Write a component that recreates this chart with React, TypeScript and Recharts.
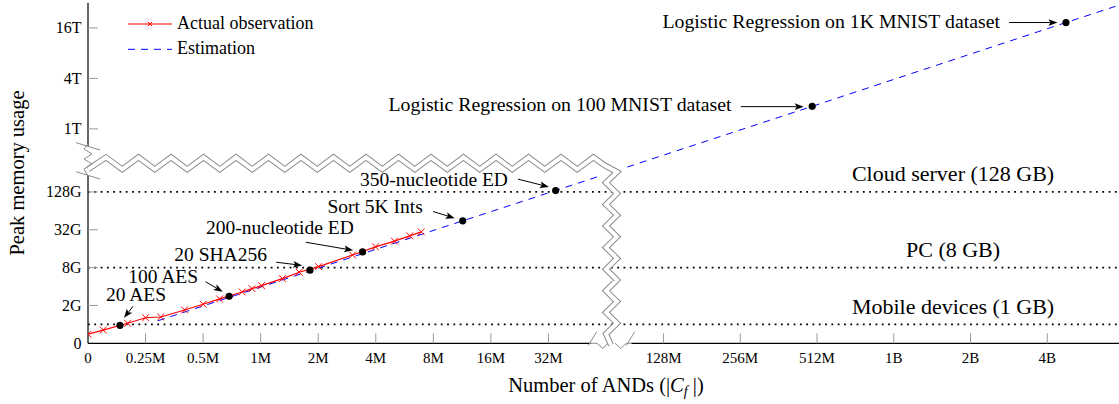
import React from "react";
import { ComposedChart, Line, Scatter, XAxis, YAxis, ReferenceLine, Legend } from "recharts";

// ANDs in millions, memory in GB
const obsAnds = [0, 0.066, 0.172, 0.25, 0.3, 0.4, 0.5, 0.61, 0.8, 0.9, 1.01, 1.3, 1.59, 2.01, 3.02, 3.99, 5.01, 6.02, 6.92];
const obsMem = [0.48, 0.7, 1.06, 1.35, 1.39, 1.76, 2.09, 2.54, 3.28, 3.7, 4.13, 5.34, 6.76, 8.3, 12.7, 17.1, 21.1, 25.6, 29.6];

const estAnds = [0.29, 11.4, 34.9, 490, 4850, 8190];
const estMem = [1.19, 44.4, 134, 1900, 19000, 32000];

const pointNames = [
  "20 AES",
  "100 AES",
  "20 SHA256",
  "200-nucleotide ED",
  "Sort 5K Ints",
  "350-nucleotide ED",
  "Logistic Regression on 100 MNIST dataset",
  "Logistic Regression on 1K MNIST dataset",
];
const pointAnds = [0.139, 0.684, 1.81, 3.41, 11.4, 34.9, 490, 4850];
const pointMem = [0.95, 2.8, 7.27, 14.2, 44.4, 134, 1900, 19000];

const limitNames = ["Mobile devices (1 GB)", "PC (8 GB)", "Cloud server (128 GB)"];
const limitMem = [1, 8, 128];

const xTickNames = ["0", "0.25M", "0.5M", "1M", "2M", "4M", "8M", "16M", "32M", "128M", "256M", "512M", "1B", "2B", "4B"];
const xTickAnds = [0, 0.25, 0.5, 1, 2, 4, 8, 16, 32, 128, 256, 512, 1024, 2048, 4096];
const xTopTickAnds = [0.25, 1, 2, 4, 8, 16, 32, 128, 256, 512, 1024, 2048, 4096];

const yTickNames = ["0", "2G", "8G", "32G", "128G", "1T", "4T", "16T"];
const yTickMem = [0, 2, 8, 32, 128, 1024, 4096, 16384];

const legendNames = ["Actual observation", "Estimation"];

// piecewise axes: linear first step, log2 steps, then a broken (stretched) log part
const toX = (m: number) =>
  m <= 0.25 ? m / 0.25 : m <= 128 ? 1 + Math.log2(m / 0.25) : 10 + (4 / 3) * Math.log2(m / 128);
const toY = (g: number) =>
  g <= 2
    ? g
    : g <= 128
    ? 2 + Math.log2(g / 2)
    : g <= 1024
    ? 8 + (10 / 9) * Math.log2(g / 128)
    : 34 / 3 + (4 / 3) * Math.log2(g / 1024);

const obsRows = obsAnds.map((a, i) => ({ x: toX(a), y: toY(obsMem[i]) }));
const estRows = estAnds.map((a, i) => ({ x: toX(a), y: toY(estMem[i]) }));
const pointRows = pointAnds.map((a, i) => ({ x: toX(a), y: toY(pointMem[i]), i }));

const FONT = '"Liberation Serif", "Times New Roman", serif';
const TICK = "#999";
const BREAK = "#8a8a8a";

// callout offsets relative to each dot: arrow tail, arrow tip, text position
const callouts = [
  { tail: [13, -19], tip: [4, -7.5], text: [16, -24], anchor: "middle" },
  { tail: [-23.6, -14.6], tip: [-6.5, -4.5], text: [-31, -13.6], anchor: "end" },
  { tail: [-33.6, -8], tip: [-7.8, -4.8], text: [-43, -9.3], anchor: "end" },
  { tail: [-56.7, -9.7], tip: [-9.4, -1.6], text: [-82.7, -17.7], anchor: "middle" },
  { tail: [-29.7, -9.3], tip: [-8, -2.7], text: [-40, -8.3], anchor: "end" },
  { tail: [-37.7, -11.4], tip: [-6.8, -3.6], text: [-47.7, -5], anchor: "end" },
  { tail: [-71.3, 0.3], tip: [-8.5, 0.3], text: [-80.6, 5], anchor: "end" },
  { tail: [-57, 0], tip: [-8.5, 0], text: [-66, 5], anchor: "end" },
];

const XMark = ({ cx, cy, r = 3.4 }: { cx: number; cy: number; r?: number }) => (
  <path
    d={`M${cx - r},${cy - r}L${cx + r},${cy + r}M${cx - r},${cy + r}L${cx + r},${cy - r}`}
    stroke="#ff0000"
    strokeWidth={1}
    fill="none"
  />
);

const Callout = (p: any) => {
  const { cx, cy, payload } = p;
  const c = callouts[payload.i];
  const sx = cx + c.tail[0], sy = cy + c.tail[1];
  const tx = cx + c.tip[0], ty = cy + c.tip[1];
  const len = Math.hypot(tx - sx, ty - sy);
  const dx = (tx - sx) / len, dy = (ty - sy) / len;
  const L = 9, w = 3.4;
  const bx = tx - dx * L, by = ty - dy * L;
  const long = pointNames[payload.i].length > 30;
  return (
    <g>
      <line x1={sx} y1={sy} x2={bx + dx * 2} y2={by + dy * 2} stroke="#000" strokeWidth={1} />
      <path
        d={`M${tx},${ty}L${bx - dy * w},${by + dx * w}L${bx + dx * 2},${by + dy * 2}L${bx + dy * w},${by - dx * w}Z`}
        fill="#000"
      />
      <circle cx={cx} cy={cy} r={3.6} fill="#000" />
      <text
        x={cx + c.text[0]}
        y={cy + c.text[1]}
        textAnchor={c.anchor}
        fontSize={long ? 19.8 : 19.5}
        fontFamily={FONT}
        fill="#000"
      >
        {pointNames[payload.i]}
      </text>
    </g>
  );
};

const BottomTick = (p: any) => (
  <g>
    {p.index > 0 && <line x1={p.x} x2={p.x} y1={p.y} y2={p.y - 10} stroke={TICK} />}
    <text x={p.x} y={p.y + 19.5} textAnchor="middle" fontSize={15} fontFamily={FONT} fill="#000">
      {xTickNames[p.index]}
    </text>
  </g>
);
const TopTick = (p: any) => <line x1={p.x} x2={p.x} y1={p.y} y2={p.y + 10} stroke={TICK} />;
const LeftTick = (p: any) => (
  <g>
    {p.index > 0 && <line x1={p.x} x2={p.x + 10} y1={p.y} y2={p.y} stroke={TICK} />}
    <text x={p.x - 6.5} y={p.y + 5.3} textAnchor="end" fontSize={16} fontFamily={FONT} fill="#000">
      {yTickNames[p.index]}
    </text>
  </g>
);
const RightTick = (p: any) => (p.index > 0 ? <line x1={p.x} x2={p.x - 10} y1={p.y} y2={p.y} stroke={TICK} /> : <g />);

const LegendBox = () => (
  <svg width={220} height={60} style={{ display: "block", fontFamily: FONT }}>
    <line x1={10} x2={54} y1={20} y2={20} stroke="#ff0000" strokeWidth={1.2} />
    <XMark cx={32} cy={20} r={2.2} />
    <text x={59} y={25.3} fontSize={18} fill="#000">{legendNames[0]}</text>
    <line x1={10} x2={54} y1={45.3} y2={45.3} stroke="#0000ff" strokeWidth={1} strokeDasharray="7 6" />
    <text x={59} y={50} fontSize={18} fill="#000">{legendNames[1]}</text>
  </svg>
);

const limitLabel = (name: string) => (props: any) => {
  const vb = props.viewBox;
  return (
    <text x={vb.x + vb.width * 0.835} y={vb.y - 10.5} textAnchor="middle" fontSize={22} fontFamily={FONT} fill="#000">
      {name}
    </text>
  );
};

const XLabel = (props: any) => {
  const vb = props.viewBox;
  return (
    <text x={vb.x + vb.width / 2} y={vb.y + 48.4} textAnchor="middle" fontSize={20.5} fontFamily={FONT} fill="#000">
      <tspan>Number of ANDs (|</tspan>
      <tspan fontStyle="italic">C</tspan>
      <tspan fontStyle="italic" fontSize={14} dy={4}>f</tspan>
      <tspan dy={-4}> |)</tspan>
    </text>
  );
};

const YLabel = (props: any) => {
  const vb = props.viewBox;
  const cy = vb.y + vb.height / 2;
  return (
    <text x={23.5} y={cy} transform={`rotate(-90 23.5 ${cy})`} textAnchor="middle" fontSize={20.5} fontFamily={FONT} fill="#000">
      Peak memory usage
    </text>
  );
};

// axis break decoration (zig-zag band)
const bandPts: number[][] = [[88, 169.3]];
for (let k = 0; k < 16; k++) {
  const xp = 106 + 32.5 * k;
  bandPts.push([xp, 157.3]);
  if (k < 15) bandPts.push([xp + 16.25, 169.3]);
}
bandPts.push([604, 165]);
for (let k = 0; k < 16; k++) bandPts.push([k % 2 === 0 ? 617 : 606, 172 + 10.8 * k]);
bandPts.push([611, 345]);
const bandPath = "M" + bandPts.map((p) => `${p[0]},${p[1]}`).join("L");

const BreakOverlay = () => (
  <svg width={1119} height={404} style={{ position: "absolute", left: 0, top: 0, pointerEvents: "none" }}>
    <rect x={86.3} y={146} width={3.4} height={29} fill="#fff" />
    <rect x={591} y={341.5} width={40} height={3.6} fill="#fff" />
    <polygon points="590,160 604,158 622,168 624,180 600,180 596,172" fill="#fff" />
    <path d={bandPath} fill="none" stroke={BREAK} strokeWidth={6} strokeLinejoin="miter" />
    <path d={bandPath} fill="none" stroke="#fff" strokeWidth={4} strokeLinejoin="miter" />
    <polyline points="88,144 84,149 92,154 84,159 92,164 84,169 88,176" fill="none" stroke={BREAK} />
    <line x1={76} y1={142.7} x2={100} y2={150} stroke={BREAK} />
    <line x1={76} y1={171.7} x2={100} y2={179} stroke={BREAK} />
    <polyline points="590,343.3 597,343.3 603,348.5 607.5,343.3" fill="none" stroke={BREAK} />
    <polyline points="615,343.3 621,348.5 626,343.3 632,343.3" fill="none" stroke={BREAK} />
    <line x1={588.3} y1={345.5} x2={596.7} y2={331.7} stroke={BREAK} />
    <line x1={626.3} y1={345.5} x2={634.7} y2={331.7} stroke={BREAK} />
  </svg>
);

export default function App() {
  return (
    <div
      style={{
        position: "absolute",
        left: 0,
        top: 0,
        width: 1119,
        height: 404,
        overflow: "hidden",
        background: "#fff",
        fontFamily: FONT,
      }}
    >
      <ComposedChart width={1125} height={404} margin={{ top: 2.7, right: 1, bottom: 0, left: 0 }}>
        <XAxis
          xAxisId="b"
          dataKey="x"
          type="number"
          scale="linear"
          domain={[0, 18]}
          allowDataOverflow
          ticks={xTickAnds.map(toX)}
          interval={0}
          tick={<BottomTick />}
          tickLine={false}
          tickSize={0}
          tickMargin={0}
          height={60.7}
          axisLine={{ stroke: "#000", strokeWidth: 1.2 }}
          label={{ content: XLabel }}
        />
        <XAxis
          xAxisId="t"
          orientation="top"
          dataKey="x"
          type="number"
          scale="linear"
          domain={[0, 18]}
          allowDataOverflow
          ticks={xTopTickAnds.map(toX)}
          interval={0}
          tick={<TopTick />}
          tickLine={false}
          tickSize={0}
          tickMargin={0}
          height={0}
          axisLine={{ stroke: "#000", strokeWidth: 1.2 }}
        />
        <YAxis
          yAxisId="l"
          dataKey="y"
          type="number"
          scale="linear"
          domain={[0, 18]}
          allowDataOverflow
          ticks={yTickMem.map(toY)}
          interval={0}
          tick={<LeftTick />}
          tickLine={false}
          tickSize={0}
          tickMargin={0}
          width={88}
          axisLine={{ stroke: "#000", strokeWidth: 1.2 }}
          label={{ content: YLabel }}
        />
        <YAxis
          yAxisId="r"
          orientation="right"
          dataKey="y"
          type="number"
          scale="linear"
          domain={[0, 18]}
          allowDataOverflow
          ticks={yTickMem.map(toY)}
          interval={0}
          tick={<RightTick />}
          tickLine={false}
          tickSize={0}
          tickMargin={0}
          width={0}
          axisLine={{ stroke: "#000", strokeWidth: 1.2 }}
        />
        {limitMem.map((g, i) => (
          <ReferenceLine
            key={limitNames[i]}
            xAxisId="b"
            yAxisId="l"
            y={toY(g)}
            stroke="#000"
            strokeWidth={1.8}
            strokeDasharray="1.8 4.5"
            label={limitLabel(limitNames[i])}
          />
        ))}
        <Line
          xAxisId="b"
          yAxisId="l"
          data={estRows}
          dataKey="y"
          type="linear"
          stroke="#0000ff"
          strokeWidth={1}
          strokeDasharray="7 6"
          dot={false}
          activeDot={false}
          isAnimationActive={false}
          name={legendNames[1]}
        />
        <Line
          xAxisId="b"
          yAxisId="l"
          data={obsRows}
          dataKey="y"
          type="linear"
          stroke="#ff0000"
          strokeWidth={1.2}
          dot={(p: any) => <XMark key={p.index} cx={p.cx} cy={p.cy} />}
          activeDot={false}
          isAnimationActive={false}
          name={legendNames[0]}
        />
        <Scatter
          xAxisId="b"
          yAxisId="l"
          data={pointRows}
          dataKey="y"
          shape={Callout}
          isAnimationActive={false}
        />
        <Legend
          layout="horizontal"
          verticalAlign="middle"
          align="center"
          wrapperStyle={{ left: 118, top: 4, width: 220, height: 60 }}
          content={() => <LegendBox />}
        />
      </ComposedChart>
      <BreakOverlay />
    </div>
  );
}
